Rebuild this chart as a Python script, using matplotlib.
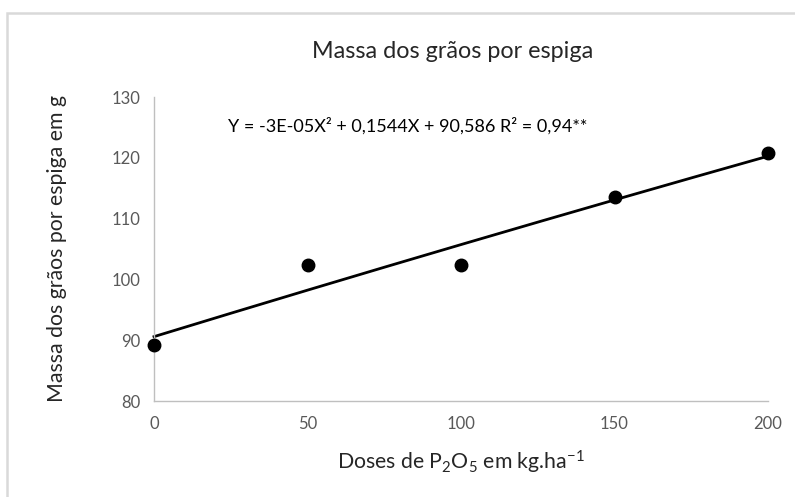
import matplotlib
matplotlib.use("Agg")
import matplotlib.pyplot as plt
import numpy as np
from matplotlib.patches import Rectangle

plt.rcParams['font.family'] = ['Lato', 'DejaVu Sans']
plt.rcParams['mathtext.fontset'] = 'custom'
plt.rcParams['mathtext.rm'] = 'Lato'
plt.rcParams['mathtext.it'] = 'Lato:italic'

doses = [0, 50, 100, 150, 200]
massa = [89.2, 102.3, 102.3, 113.5, 120.8]
coef = [-3e-05, 0.1544, 90.586]  # a, b, c of fitted quadratic
x_ticks = [0, 50, 100, 150, 200]
y_ticks = [80, 90, 100, 110, 120, 130]

W, H = 795, 497
fig = plt.figure(figsize=(W/100, H/100), dpi=100)
fig.patches.append(Rectangle((7/W, -0.1), 1.2, 1.1 - 13/H, transform=fig.transFigure,
                             fill=False, edgecolor='#d9d9d9', linewidth=1.8))

ax = fig.add_axes([154/W, 1 - 401/H, (768-154)/W, (401-97)/H])
xs = np.linspace(0, 200, 200)
ys = coef[0]*xs**2 + coef[1]*xs + coef[2]
ax.plot(xs, ys, color='black', linewidth=2.0, zorder=2)
ax.plot(doses, massa, 'o', color='black', markersize=9, zorder=3)

ax.set_xlim(0, 200)
ax.set_ylim(80, 130)
ax.set_xticks(x_ticks)
ax.set_yticks(y_ticks)
ax.tick_params(length=0, labelsize=12, colors='#595959')
ax.tick_params(axis='x', pad=11)
ax.tick_params(axis='y', pad=10)
for s in ['top', 'right']:
    ax.spines[s].set_visible(False)
for s in ['left', 'bottom']:
    ax.spines[s].set_color('#bfbfbf')
    ax.spines[s].set_linewidth(1)
for l in ax.lines:
    l.set_clip_on(False)

ax.set_ylabel('Massa dos grãos por espiga em g', fontsize=15.3, color='#262626', labelpad=32)
ax.set_xlabel(r'Doses de P$_2$O$_5$ em kg.ha$^{-1}$', fontsize=15.3, color='#262626', labelpad=12)
fig.text(453/W, 1 - 52/H, 'Massa dos grãos por espiga', fontsize=16.8, color='#262626',
         ha='center', va='center')
ax.text(228/W, 1 - 126/H, 'Y = -3E-05X² + 0,1544X + 90,586 R² = 0,94**', fontsize=13,
        color='black', ha='left', va='center', transform=fig.transFigure)

fig.savefig('out.png', dpi=100)
